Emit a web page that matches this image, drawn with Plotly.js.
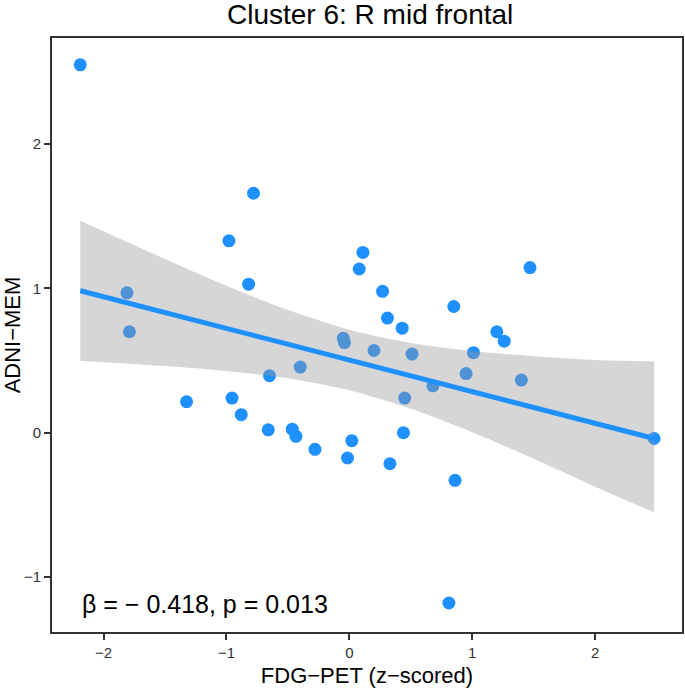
<!DOCTYPE html>
<html>
<head>
<meta charset="utf-8">
<script src="https://cdn.plot.ly/plotly-3.0.1.min.js"></script>
<style>html,body{margin:0;padding:0;background:#fff;}#chart{width:685px;height:689px;}</style>
</head>
<body>
<div id="chart"></div>
<script>
// Scatter points
const fdgPet = [-2.19, -0.78, -0.98, -0.82, -1.81, -1.79, -0.05, -0.04, 0.11, 0.08,
                0.27, 0.31, 0.43, 0.85, 1.47, 1.20, 1.26, 0.20, 0.51, 1.01,
                0.95, 0.68, 1.40, 0.45, 2.48, 0.02, -0.015, 0.33, 0.44, 0.86,
                0.81, -1.325, -0.955, -0.88, -0.65, -0.66, -0.40, -0.465, -0.435, -0.28];
const adniMem = [2.55, 1.66, 1.33, 1.03, 0.97, 0.70, 0.655, 0.625, 1.25, 1.135,
                 0.98, 0.795, 0.725, 0.875, 1.145, 0.70, 0.635, 0.57, 0.545, 0.555,
                 0.41, 0.325, 0.365, 0.24, -0.04, -0.055, -0.175, -0.215, 0.00, -0.33,
                 -1.18, 0.215, 0.24, 0.125, 0.395, 0.02, 0.455, 0.025, -0.025, -0.115];

// Fitted line and confidence band
const fitX     = [-2.19, -1.5, -1.0, -0.5, 0.0, 0.5, 1.0, 1.5, 2.0, 2.48];
const fitY     = [0.984, 0.833, 0.723, 0.614, 0.504, 0.394, 0.285, 0.175, 0.065, -0.040];
const bandUp   = [1.469, 1.204, 1.018, 0.850, 0.714, 0.622, 0.566, 0.530, 0.504, 0.495];
const bandLow  = [0.499, 0.462, 0.428, 0.378, 0.294, 0.166, 0.004, -0.180, -0.374, -0.552];

const xTicks = [-2, -1, 0, 1, 2];
const yTicks = [-1, 0, 1, 2];
const annText = "β = − 0.418, p = 0.013";

const font = "Liberation Sans, Arial, Helvetica, sans-serif";

const traces = [
  {
    x: fdgPet, y: adniMem, type: 'scatter', mode: 'markers',
    marker: {color: '#1E90FF', size: 13, line: {width: 0}},
    hoverinfo: 'skip', showlegend: false
  },
  {
    x: fitX, y: bandLow, type: 'scatter', mode: 'lines',
    line: {width: 0, color: 'rgba(0,0,0,0)', shape: 'spline', smoothing: 0.8},
    hoverinfo: 'skip', showlegend: false
  },
  {
    x: fitX, y: bandUp, type: 'scatter', mode: 'lines', fill: 'tonexty',
    fillcolor: 'rgba(153,153,153,0.4)',
    line: {width: 0, color: 'rgba(0,0,0,0)', shape: 'spline', smoothing: 0.8},
    hoverinfo: 'skip', showlegend: false
  },
  {
    x: fitX, y: fitY, type: 'scatter', mode: 'lines',
    line: {color: '#1E90FF', width: 5},
    hoverinfo: 'skip', showlegend: false
  }
];

const layout = {
  width: 685, height: 689,
  margin: {l: 52, r: 3, t: 38, b: 57},
  paper_bgcolor: '#fff', plot_bgcolor: '#fff',
  font: {family: font, color: '#000'},
  title: {
    text: 'Cluster 6: R mid frontal',
    font: {family: font, size: 28, color: '#000'},
    x: 0.505, xref: 'paper', xanchor: 'center',
    y: 1 - 14/689, yref: 'container', yanchor: 'middle'
  },
  xaxis: {
    range: [-2.42, 2.707], tickvals: xTicks, ticktext: xTicks.map(v => v < 0 ? '\u2212' + Math.abs(v) : String(v)),
    showgrid: false, zeroline: false,
    showline: true, mirror: true, linecolor: '#333', linewidth: 1.8,
    ticks: 'outside', ticklen: 6, tickwidth: 2, tickcolor: '#333',
    tickfont: {family: font, size: 15, color: '#333'},
    title: {text: 'FDG\u2212PET (z\u2212scored)', font: {family: font, size: 22, color: '#000'}, standoff: 8}
  },
  yaxis: {
    range: [-1.381, 2.736], tickvals: yTicks, ticktext: yTicks.map(v => v < 0 ? '\u2212' + Math.abs(v) : String(v)),
    showgrid: false, zeroline: false,
    showline: true, mirror: true, linecolor: '#333', linewidth: 1.8,
    ticks: 'outside', ticklen: 6, tickwidth: 2, tickcolor: '#333',
    tickfont: {family: font, size: 15, color: '#333'},
    title: {text: 'ADNI\u2212MEM', font: {family: font, size: 22, color: '#000'}, standoff: 8}
  },
  annotations: [{
    x: -2.195, y: -1.19, xref: 'x', yref: 'y', xanchor: 'left', yanchor: 'middle',
    text: annText, showarrow: false, font: {family: font, size: 25, color: '#000'}
  }]
};

Plotly.newPlot('chart', traces, layout, {staticPlot: true, displayModeBar: false});
</script>
</body>
</html>
